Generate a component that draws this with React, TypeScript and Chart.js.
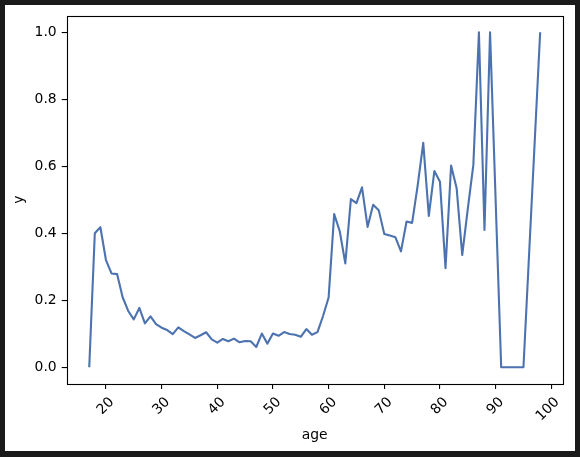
import React, { useEffect, useRef } from "react";
import { Chart, registerables } from "chart.js";

Chart.register(...registerables);

const ages: number[] = [
  17, 18, 19, 20, 21, 22, 23, 24, 25, 26, 27, 28, 29, 30, 31, 32, 33, 34, 35, 36,
  37, 38, 39, 40, 41, 42, 43, 44, 45, 46, 47, 48, 49, 50, 51, 52, 53, 54, 55, 56,
  57, 58, 59, 60, 61, 62, 63, 64, 65, 66, 67, 68, 69, 70, 71, 72, 73, 74, 75, 76,
  77, 78, 79, 80, 81, 82, 83, 84, 85, 86, 87, 88, 89, 91, 92, 93, 94, 95, 98,
];

const rates: number[] = [
  0.0, 0.4, 0.418, 0.32, 0.28, 0.278, 0.209, 0.168, 0.143, 0.177, 0.131, 0.152, 0.129, 0.118, 0.111, 0.099, 0.119, 0.108, 0.098, 0.0875,
  0.0955, 0.1045, 0.0835, 0.0735, 0.0845, 0.0775, 0.0855, 0.0745, 0.0785, 0.0775, 0.0605, 0.1005, 0.0705, 0.1005, 0.094, 0.105, 0.0995, 0.097, 0.091, 0.114,
  0.097, 0.105, 0.153, 0.208, 0.457, 0.406, 0.31, 0.502, 0.49, 0.537, 0.419, 0.485, 0.469, 0.398, 0.393, 0.388, 0.346, 0.435, 0.431, 0.543,
  0.67, 0.452, 0.586, 0.554, 0.296, 0.602, 0.534, 0.335, 0.473, 0.604, 1.0, 0.41, 1.0, 0.0, 0.0, 0.0, 0.0, 0.0, 1.0,
];

const xTicks: number[] = [20, 30, 40, 50, 60, 70, 80, 90, 100];
const yTicks: number[] = [0, 0.2, 0.4, 0.6, 0.8, 1.0];

const xTitle = "age";
const yTitle = "y";

const FONT = { family: "DejaVu Sans", size: 13.9 };

export default function App() {
  const ref = useRef<HTMLCanvasElement>(null);

  useEffect(() => {
    if (!ref.current) return;
    const frame = {
      id: "frame",
      afterDraw(chart: any) {
        const { ctx, chartArea } = chart;
        const l = Math.round(chartArea.left) + 0.5;
        const r = Math.round(chartArea.right) + 0.5;
        const t = Math.round(chartArea.top) + 0.5;
        const b = Math.round(chartArea.bottom) + 0.5;
        ctx.save();
        ctx.strokeStyle = "#000";
        ctx.lineWidth = 1.1;
        ctx.strokeRect(l, t, r - l, b - t);
        ctx.restore();
      },
    };
    const chart = new Chart(ref.current, {
      type: "line",
      data: {
        datasets: [
          {
            data: ages.map((a, i) => ({ x: a, y: rates[i] })),
            borderColor: "#4c72b0",
            backgroundColor: "#4c72b0",
            borderWidth: 2.1,
            pointRadius: 0,
            tension: 0,
            fill: false,
            borderJoinStyle: "round",
          },
        ],
      },
      options: {
        responsive: false,
        animation: false,
        devicePixelRatio: 1,
        layout: { padding: { left: 0, top: 10.5, right: 12.3, bottom: 0 } },
        plugins: { legend: { display: false }, tooltip: { enabled: false } },
        scales: {
          x: {
            type: "linear",
            min: 12.95,
            max: 102.05,
            afterBuildTicks: (s: any) => {
              s.ticks = xTicks.map((v) => ({ value: v }));
            },
            afterFit: (s: any) => {
              s.height = 67;
              s.paddingLeft = 0;
              s.paddingRight = 0;
              s.paddingTop = 0;
              s.paddingBottom = 0;
            },
            grid: { drawOnChartArea: false, drawTicks: true, tickLength: 5, color: "#000", lineWidth: 1.1 },
            border: { display: false },
            ticks: {
              autoSkip: false,
              minRotation: 45,
              maxRotation: 45,
              padding: 5,
              labelOffset: 6,
              color: "#000",
              font: FONT,
              callback: (v: any) => String(v),
            },
            title: { display: true, text: xTitle, color: "#000", font: FONT, padding: { top: 0, bottom: 7.6 } },
          },
          y: {
            type: "linear",
            min: -0.05,
            max: 1.05,
            afterBuildTicks: (s: any) => {
              s.ticks = yTicks.map((v) => ({ value: v }));
            },
            afterFit: (s: any) => {
              s.width = 61.7;
              s.paddingLeft = 0;
              s.paddingRight = 0;
              s.paddingTop = 0;
              s.paddingBottom = 0;
            },
            grid: { drawOnChartArea: false, drawTicks: true, tickLength: 5, color: "#000", lineWidth: 1.1 },
            border: { display: false },
            ticks: {
              padding: 5,
              color: "#000",
              font: FONT,
              callback: (v: any) => Number(v).toFixed(1),
            },
            title: { display: true, text: yTitle, color: "#000", font: FONT, padding: { top: 6.5, bottom: 0 } },
          },
        },
      },
      plugins: [frame],
    } as any);
    return () => chart.destroy();
  }, []);

  return (
    <div
      style={{
        position: "fixed",
        left: 0,
        top: 0,
        width: 580,
        height: 457,
        background: "#1a1a1a",
      }}
    >
      <canvas
        ref={ref}
        width={570}
        height={446}
        style={{ position: "absolute", left: 5, top: 5, width: 570, height: 446, background: "#fff" }}
      />
    </div>
  );
}
